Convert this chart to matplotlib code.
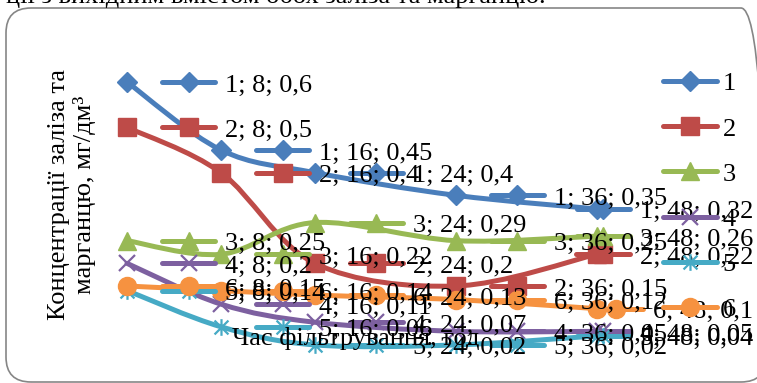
import matplotlib
matplotlib.use("Agg")
import matplotlib.pyplot as plt
from matplotlib.path import Path
from matplotlib.patches import PathPatch, FancyBboxPatch
import numpy as np

plt.rcParams['font.family'] = ['Liberation Serif', 'DejaVu Serif']

# filtration time, h
hours = [8, 16, 24, 36, 48]

# concentration of Fe and Mn, mg/dm3, per sample
s1 = [0.6, 0.45, 0.4, 0.35, 0.32]
s2 = [0.5, 0.4, 0.2, 0.15, 0.22]
s3 = [0.25, 0.22, 0.29, 0.25, 0.26]
s4 = [0.2, 0.11, 0.07, 0.05, 0.05]
s5 = [0.14, 0.06, 0.02, 0.02, 0.04]
s6 = [0.15, 0.14, 0.13, 0.12, 0.1]

names = ['1', '2', '3', '4', '5', '6']
colors = ['#4A7EBB', '#BE4B48', '#98B954', '#7D60A0', '#46AAC5', '#F69240']

ylabel = 'Концентрації заліза та\nмарганцю, мг/дм³'
xlabel = 'Час фільтрування, год'
caption = 'ції з вихідним вмістом обох заліза та марганцю.'

# excel-like star: x plus a vertical bar
star = Path([(-1, -1), (1, 1), (-1, 1), (1, -1), (0, -1.2), (0, 1.2)],
            [Path.MOVETO, Path.LINETO, Path.MOVETO, Path.LINETO, Path.MOVETO, Path.LINETO])
markers = [('D', 10), ('s', 13), ('^', 13), ('x', 12), (star, 12), ('o', 13)]

W, H = 757, 383
fig = plt.figure(figsize=(W / 100, H / 100), dpi=100)
ax = fig.add_axes([0, 0, 1, 1])
ax.set_xlim(-2.81, 61.62)
ax.set_ylim(-0.064, 0.781)
ax.axis('off')


def smooth_path(x, y):
    # cubic bezier through the points (catmull-rom style, like excel "smoothed line")
    p = np.column_stack([x, y]).astype(float)
    ext = np.vstack([p[0], p, p[-1]])
    verts = [p[0]]
    codes = [Path.MOVETO]
    for i in range(len(p) - 1):
        p0, p1, p2, p3 = ext[i], ext[i + 1], ext[i + 2], ext[i + 3]
        verts += [p1 + (p2 - p0) / 6, p2 - (p3 - p1) / 6, p2]
        codes += [Path.CURVE4] * 3
    return Path(verts, codes)


def fmt(v):
    return str(v).replace('.', ',')


series = [s1, s2, s3, s4, s5, s6]
lw = 3.6
handles = []
for k, vals in enumerate(series):
    c = colors[k]
    m, ms = markers[k]
    ax.add_patch(PathPatch(smooth_path(hours, vals), fill=False, ec=c, lw=lw,
                           capstyle='round', joinstyle='round', zorder=2))
    mew = 1.6 if k in (3, 4) else 1
    ax.plot(hours, vals, ls='none', marker=m, ms=ms, color=c, mec=c, mew=mew, zorder=3)
    handles.append(plt.Line2D([], [], color=c, lw=lw, marker=m, ms=ms, mec=c, mew=mew,
                              solid_capstyle='round'))

# pixel -> data width
px = ax.transData.transform((1, 0))[0] - ax.transData.transform((0, 0))[0]
renderer = fig.canvas.get_renderer()
right_edge = 753  # labels are pushed back inside the chart area

# data labels with legend key
for k, vals in enumerate(series):
    c = colors[k]
    m, ms = markers[k]
    mew = 1.6 if k in (3, 4) else 1
    for x, v in zip(hours, vals):
        t = ax.annotate(f'{names[k]}; {x}; {fmt(v)}', (x, v), xytext=(98 * 0.72, -2.5),
                        textcoords='offset points', va='center', ha='left',
                        fontsize=19, zorder=5)
        bb = t.get_window_extent(renderer)
        shift = max(0, bb.x1 - right_edge)
        if shift:
            t.set_position(((98 - shift) * 0.72, -2.5))
        x0 = x + (35 - shift) / px
        ax.plot([x0, x0 + 53 / px], [v, v], color=c, lw=lw,
                solid_capstyle='round', zorder=4)
        ax.plot([x0 + 26.5 / px], [v], marker=m, ms=ms, color=c, mec=c, mew=mew, zorder=4)

leg = ax.legend(handles, names, loc='upper left', bbox_to_anchor=(663 / W, 1 - 72 / H),
                frameon=False, fontsize=19, handlelength=2.05, handletextpad=0.2,
                labelspacing=0.82, borderpad=0, borderaxespad=0)
leg.set_zorder(6)

fig.text(356 / W, 1 - 338 / H, xlabel, fontsize=19, ha='center', va='center', zorder=7)
fig.text(72 / W, 1 - 195 / H, ylabel, fontsize=19, rotation=90, ha='center', va='center',
         multialignment='center', linespacing=1.2)
fig.text(546 / W, 1 - 3 / H, caption, fontsize=19, ha='right', va='baseline')

frame = FancyBboxPatch((6, 1), 760, 374, boxstyle='round,pad=0,rounding_size=25',
                       transform=None, fill=False, ec='#868686', lw=1.2, zorder=1)
fig.patches.append(frame)

fig.savefig('out.png', dpi=100)
